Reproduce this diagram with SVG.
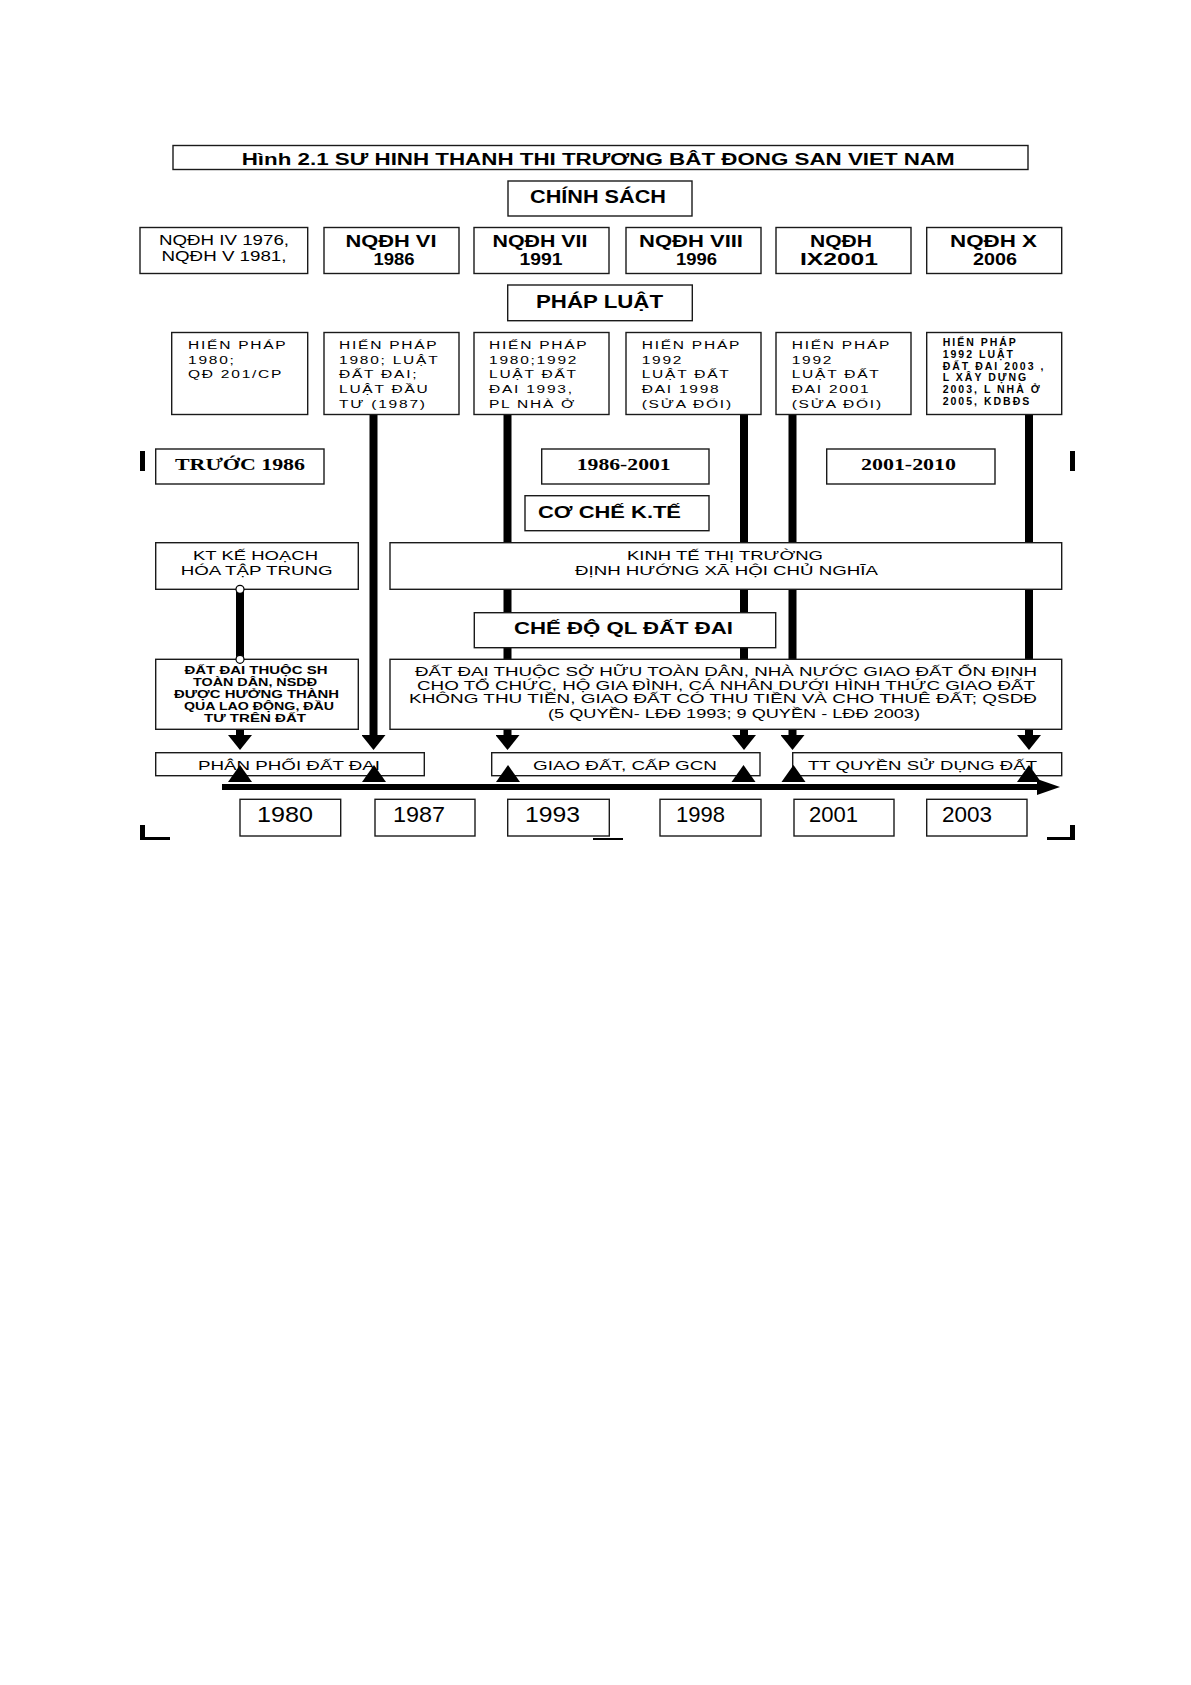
<svg xmlns="http://www.w3.org/2000/svg" width="1191" height="1685" viewBox="0 0 1191 1685">
<style>
.box{fill:#fff;stroke:#1a1a1a;stroke-width:1.4}
.t{font-family:"Liberation Sans",Arial,sans-serif;fill:#000}
.b{font-weight:bold}
.sf{font-family:"Liberation Serif","Times New Roman",serif;font-weight:bold;fill:#000}
.hp{font-family:"Liberation Sans",Arial,sans-serif;font-size:11.5px;letter-spacing:1.3px;fill:#000}
.hp6{font-family:"Liberation Sans",Arial,sans-serif;font-size:10.5px;font-weight:bold;letter-spacing:2px;fill:#000}
.conn{stroke:#000;stroke-width:8;fill:none}
.mk{fill:#000}
.dot{fill:#fff;stroke:#000;stroke-width:1.2}
</style>
<defs>
<marker id="ad" markerUnits="userSpaceOnUse" viewBox="0 0 15 24" refX="0" refY="12" markerWidth="15" markerHeight="24" orient="auto"><path d="M0,0 L15,12 L0,24 Z" fill="#000"/></marker>
<marker id="ar" markerUnits="userSpaceOnUse" viewBox="0 0 23 16" refX="0" refY="8" markerWidth="23" markerHeight="16" orient="auto"><path d="M0,0 L23,8 L0,16 Z" fill="#000"/></marker>
<path id="up" d="M-12,0 L0,-17 L12,0 Z"/>
</defs>
<rect x="0" y="0" width="1191" height="1685" fill="#fff"/>

<g id="connectors">
<line class="conn" x1="373.5" y1="414" x2="373.5" y2="735" marker-end="url(#ad)"/>
<line class="conn" x1="507.5" y1="414" x2="507.5" y2="735" marker-end="url(#ad)"/>
<line class="conn" x1="744" y1="414" x2="744" y2="735" marker-end="url(#ad)"/>
<line class="conn" x1="792.5" y1="414" x2="792.5" y2="735" marker-end="url(#ad)"/>
<line class="conn" x1="1029" y1="414" x2="1029" y2="735" marker-end="url(#ad)"/>
<line class="conn" x1="240" y1="589" x2="240" y2="735" marker-end="url(#ad)"/>
<line x1="222" y1="787" x2="1037" y2="787" stroke="#000" stroke-width="6" marker-end="url(#ar)"/>
</g>

<g id="title"><rect class="box" x="173" y="145.5" width="855" height="24"/>
<text class="t b" x="241.7" y="164.5" font-size="16" textLength="713" lengthAdjust="spacingAndGlyphs">Hình 2.1  SƯ HINH THANH THI TRƯƠNG BÂT ĐONG SAN VIET NAM</text></g>

<g id="chinh-sach"><rect class="box" x="508" y="181" width="184" height="35"/>
<text class="t b" x="598" y="203" font-size="17.5" text-anchor="middle" textLength="136" lengthAdjust="spacingAndGlyphs">CHÍNH SÁCH</text></g>

<g id="nqdh-iv-v"><rect class="box" x="140" y="227.5" width="167.7" height="46"/>
<text class="t" x="224" y="245" font-size="14" text-anchor="middle" textLength="130" lengthAdjust="spacingAndGlyphs">NQĐH IV 1976,</text>
<text class="t" x="224" y="260.5" font-size="14" text-anchor="middle" textLength="125" lengthAdjust="spacingAndGlyphs">NQĐH V 1981,</text></g>
<g id="nqdh-vi"><rect class="box" x="324" y="227.5" width="135" height="46"/>
<text class="t b" x="391" y="247" font-size="17" text-anchor="middle" textLength="91" lengthAdjust="spacingAndGlyphs">NQĐH VI</text>
<text class="t b" x="394" y="265" font-size="17" text-anchor="middle" textLength="41" lengthAdjust="spacingAndGlyphs">1986</text></g>
<g id="nqdh-vii"><rect class="box" x="474" y="227.5" width="135" height="46"/>
<text class="t b" x="540" y="247" font-size="17" text-anchor="middle" textLength="95" lengthAdjust="spacingAndGlyphs">NQĐH VII</text>
<text class="t b" x="541" y="265" font-size="17" text-anchor="middle" textLength="43" lengthAdjust="spacingAndGlyphs">1991</text></g>
<g id="nqdh-viii"><rect class="box" x="626" y="227.5" width="135" height="46"/>
<text class="t b" x="691" y="247" font-size="17" text-anchor="middle" textLength="104" lengthAdjust="spacingAndGlyphs">NQĐH VIII</text>
<text class="t b" x="696.5" y="265" font-size="17" text-anchor="middle" textLength="41" lengthAdjust="spacingAndGlyphs">1996</text></g>
<g id="nqdh-ix"><rect class="box" x="776" y="227.5" width="135" height="46"/>
<text class="t b" x="841" y="247" font-size="17" text-anchor="middle" textLength="62" lengthAdjust="spacingAndGlyphs">NQĐH</text>
<text class="t b" x="839" y="265" font-size="17" text-anchor="middle" textLength="78" lengthAdjust="spacingAndGlyphs">IX2001</text></g>
<g id="nqdh-x"><rect class="box" x="926.7" y="227.5" width="135" height="46"/>
<text class="t b" x="993.5" y="247" font-size="17" text-anchor="middle" textLength="87" lengthAdjust="spacingAndGlyphs">NQĐH X</text>
<text class="t b" x="995" y="265" font-size="17" text-anchor="middle" textLength="44" lengthAdjust="spacingAndGlyphs">2006</text></g>

<g id="phap-luat"><rect class="box" x="507.7" y="285" width="184.6" height="35.7"/>
<text class="t b" x="599.5" y="307.5" font-size="17.5" text-anchor="middle" textLength="127" lengthAdjust="spacingAndGlyphs">PHÁP LUẬT</text></g>

<g id="hp-1980"><rect class="box" x="171.7" y="332.5" width="136" height="82"/>
<text class="hp" transform="translate(188,349) scale(1.35,1)"><tspan x="0">HIẾN PHÁP</tspan><tspan x="0" dy="14.75">1980;</tspan><tspan x="0" dy="14.75">QĐ 201/CP</tspan></text></g>
<g id="hp-1987"><rect class="box" x="324" y="332.5" width="135" height="82"/>
<text class="hp" transform="translate(339,349) scale(1.35,1)"><tspan x="0">HIẾN PHÁP</tspan><tspan x="0" dy="14.75">1980; LUẬT</tspan><tspan x="0" dy="14.75">ĐẤT ĐAI;</tspan><tspan x="0" dy="14.75">LUẬT ĐẦU</tspan><tspan x="0" dy="14.75">TƯ (1987)</tspan></text></g>
<g id="hp-1993"><rect class="box" x="474" y="332.5" width="135" height="82"/>
<text class="hp" transform="translate(489,349) scale(1.35,1)"><tspan x="0">HIẾN PHÁP</tspan><tspan x="0" dy="14.75">1980;1992</tspan><tspan x="0" dy="14.75">LUẬT ĐẤT</tspan><tspan x="0" dy="14.75">ĐAI 1993,</tspan><tspan x="0" dy="14.75">PL NHÀ Ở</tspan></text></g>
<g id="hp-1998"><rect class="box" x="626" y="332.5" width="135" height="82"/>
<text class="hp" transform="translate(641.7,349) scale(1.35,1)"><tspan x="0">HIẾN PHÁP</tspan><tspan x="0" dy="14.75">1992</tspan><tspan x="0" dy="14.75">LUẬT ĐẤT</tspan><tspan x="0" dy="14.75">ĐAI 1998</tspan><tspan x="0" dy="14.75">(SỬA ĐỔI)</tspan></text></g>
<g id="hp-2001"><rect class="box" x="776" y="332.5" width="135" height="82"/>
<text class="hp" transform="translate(791.7,349) scale(1.35,1)"><tspan x="0">HIẾN PHÁP</tspan><tspan x="0" dy="14.75">1992</tspan><tspan x="0" dy="14.75">LUẬT ĐẤT</tspan><tspan x="0" dy="14.75">ĐAI 2001</tspan><tspan x="0" dy="14.75">(SỬA ĐỔI)</tspan></text></g>
<g id="hp-2003"><rect class="box" x="926.7" y="332.5" width="135" height="82"/>
<text class="hp6" x="942.7" y="346"><tspan x="942.7">HIẾN PHÁP</tspan><tspan x="942.7" dy="11.8">1992 LUẬT</tspan><tspan x="942.7" dy="11.8">ĐẤT ĐAI 2003 ,</tspan><tspan x="942.7" dy="11.8">L XÂY DỰNG</tspan><tspan x="942.7" dy="11.8">2003, L NHÀ Ở</tspan><tspan x="942.7" dy="11.8">2005, KDBĐS</tspan></text></g>

<g id="truoc-1986"><rect class="box" x="155.7" y="449" width="168.3" height="35"/>
<text class="sf" x="175" y="470" font-size="17.5" textLength="130" lengthAdjust="spacingAndGlyphs">TRƯỚC 1986</text></g>
<g id="p-1986-2001"><rect class="box" x="541.7" y="449" width="167.3" height="35"/>
<text class="sf" x="576.7" y="470" font-size="17.5" textLength="94" lengthAdjust="spacingAndGlyphs">1986-2001</text></g>
<g id="co-che"><rect class="box" x="525" y="495.7" width="184" height="35"/>
<text class="t b" x="538" y="517.5" font-size="17" textLength="143" lengthAdjust="spacingAndGlyphs">CƠ CHẾ K.TẾ</text></g>
<g id="p-2001-2010"><rect class="box" x="826.7" y="449" width="168.3" height="35"/>
<text class="sf" x="861" y="470" font-size="17.5" textLength="95" lengthAdjust="spacingAndGlyphs">2001-2010</text></g>

<g id="kt-ke-hoach"><rect class="box" x="155.7" y="542.7" width="202.6" height="46.6"/>
<text class="t" x="255.5" y="560" font-size="13" text-anchor="middle" textLength="125" lengthAdjust="spacingAndGlyphs">KT KẾ HOẠCH</text>
<text class="t" x="256.7" y="575" font-size="13" text-anchor="middle" textLength="152" lengthAdjust="spacingAndGlyphs">HÓA TẬP TRUNG</text></g>
<g id="kinh-te"><rect class="box" x="390" y="542.7" width="671.7" height="46.6"/>
<text class="t" x="725" y="560" font-size="13" text-anchor="middle" textLength="196" lengthAdjust="spacingAndGlyphs">KINH TẾ THỊ TRƯỜNG</text>
<text class="t" x="726.5" y="575" font-size="13" text-anchor="middle" textLength="303" lengthAdjust="spacingAndGlyphs">ĐỊNH HƯỚNG XÃ HỘI CHỦ NGHĨA</text></g>

<g id="che-do"><rect class="box" x="474.3" y="612.7" width="301.4" height="35"/>
<text class="t b" x="514" y="634" font-size="16" textLength="219" lengthAdjust="spacingAndGlyphs">CHẾ ĐỘ QL ĐẤT ĐAI</text></g>

<g id="dat-dai-sh"><rect class="box" x="155.7" y="659.3" width="202.6" height="70"/>
<text class="t b" x="256" y="673.5" font-size="10.5" text-anchor="middle" textLength="143" lengthAdjust="spacingAndGlyphs">ĐẤT ĐAI THUỘC SH</text>
<text class="t b" x="255" y="685.5" font-size="10.5" text-anchor="middle" textLength="124" lengthAdjust="spacingAndGlyphs">TOÀN DÂN, NSDĐ</text>
<text class="t b" x="256.5" y="697.5" font-size="10.5" text-anchor="middle" textLength="165" lengthAdjust="spacingAndGlyphs">ĐƯỢC HƯỞNG THÀNH</text>
<text class="t b" x="259" y="709.5" font-size="10.5" text-anchor="middle" textLength="150" lengthAdjust="spacingAndGlyphs">QUA LAO ĐỘNG, ĐẦU</text>
<text class="t b" x="255" y="721.5" font-size="10.5" text-anchor="middle" textLength="102" lengthAdjust="spacingAndGlyphs">TƯ TRÊN ĐẤT</text></g>
<g id="dat-dai-so-huu"><rect class="box" x="390" y="659.3" width="671.7" height="70"/>
<text class="t" x="415" y="676" font-size="12.5" textLength="622" lengthAdjust="spacingAndGlyphs">ĐẤT ĐAI THUỘC SỞ HỮU TOÀN DÂN, NHÀ NƯỚC GIAO ĐẤT ỔN ĐỊNH</text>
<text class="t" x="417" y="689.5" font-size="12.5" textLength="618" lengthAdjust="spacingAndGlyphs">CHO TỔ CHỨC, HỘ GIA ĐÌNH, CÁ NHÂN  DƯỚI HÌNH THỨC GIAO ĐẤT</text>
<text class="t" x="409" y="703" font-size="12.5" textLength="628" lengthAdjust="spacingAndGlyphs">KHÔNG THU TIỀN, GIAO ĐẤT CÓ THU TIỀN VÀ CHO THUÊ ĐẤT;  QSDĐ</text>
<text class="t" x="548" y="717.5" font-size="12.5" textLength="372" lengthAdjust="spacingAndGlyphs">(5 QUYỀN- LĐĐ 1993; 9 QUYỀN - LĐĐ 2003)</text></g>

<g id="phan-phoi"><rect class="box" x="155.7" y="752.7" width="268.6" height="23"/>
<text class="t" x="198" y="770" font-size="13" textLength="182" lengthAdjust="spacingAndGlyphs">PHÂN PHỐI ĐẤT ĐAI</text></g>
<g id="giao-dat"><rect class="box" x="491.7" y="752.7" width="268.3" height="23"/>
<text class="t" x="533" y="770" font-size="13" textLength="184" lengthAdjust="spacingAndGlyphs">GIAO ĐẤT, CẤP GCN</text></g>
<g id="tt-quyen"><rect class="box" x="792.7" y="752.7" width="269" height="23"/>
<text class="t" x="808" y="770" font-size="13" textLength="229" lengthAdjust="spacingAndGlyphs">TT QUYỀN SỬ DỤNG ĐẤT</text></g>

<g id="y1980"><rect class="box" x="240" y="799.3" width="100.7" height="36.7"/>
<text class="t" x="257" y="821.5" font-size="22" textLength="56" lengthAdjust="spacingAndGlyphs">1980</text></g>
<g id="y1987"><rect class="box" x="375" y="799.3" width="100" height="36.7"/>
<text class="t" x="393" y="821.5" font-size="22" textLength="52" lengthAdjust="spacingAndGlyphs">1987</text></g>
<g id="y1993"><rect class="box" x="507.7" y="799.3" width="101.6" height="36.7"/>
<text class="t" x="525" y="821.5" font-size="22" textLength="55" lengthAdjust="spacingAndGlyphs">1993</text></g>
<g id="y1998"><rect class="box" x="660" y="799.3" width="101" height="36.7"/>
<text class="t" x="676" y="821.5" font-size="22" textLength="49" lengthAdjust="spacingAndGlyphs">1998</text></g>
<g id="y2001"><rect class="box" x="794" y="799.3" width="100" height="36.7"/>
<text class="t" x="809" y="821.5" font-size="22" textLength="49" lengthAdjust="spacingAndGlyphs">2001</text></g>
<g id="y2003"><rect class="box" x="926.7" y="799.3" width="100.3" height="36.7"/>
<text class="t" x="942" y="821.5" font-size="22" textLength="50" lengthAdjust="spacingAndGlyphs">2003</text></g>

<g id="timeline-ticks" class="mk">
<use href="#up" x="240" y="782"/>
<use href="#up" x="374" y="782"/>
<use href="#up" x="508" y="782"/>
<use href="#up" x="743.5" y="782"/>
<use href="#up" x="793.5" y="782"/>
<use href="#up" x="1029" y="782"/>
<circle class="dot" cx="240" cy="589.3" r="4"/>
<circle class="dot" cx="240" cy="659.3" r="4"/>
</g>

<g id="frame-marks" fill="#000">
<rect x="140" y="451" width="5" height="20"/>
<rect x="1070" y="451" width="5" height="20"/>
<rect x="140" y="825" width="5" height="15"/>
<rect x="140" y="837" width="30" height="3"/>
<rect x="1070" y="825" width="5" height="15"/>
<rect x="1047" y="837" width="28" height="3"/>
<rect x="593" y="838" width="30" height="2"/>
</g>
</svg>
